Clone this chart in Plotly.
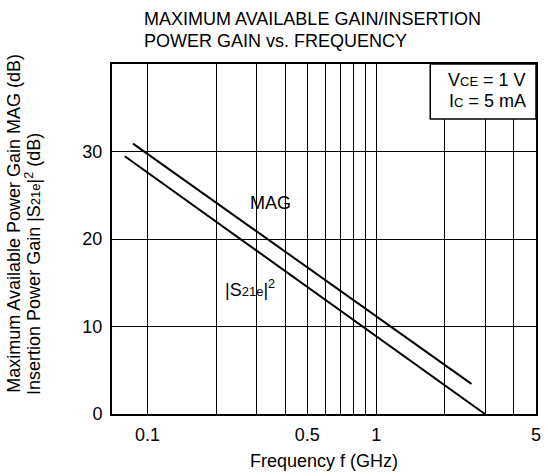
import plotly.graph_objects as go

# ---- data ----
mag_freq_ghz = [0.0865, 2.61]
mag_db = [30.9, 3.45]
s21_freq_ghz = [0.0796, 2.99]
s21_db = [29.45, 0.0]

x_grid_vals = [0.1, 0.2, 0.3, 0.4, 0.5, 0.6, 0.7, 0.8, 0.9, 1, 2, 3, 4, 5]
x_tick_text = ["0.1", "", "", "", "0.5", "", "", "", "", "1", "", "", "", "5"]
y_tick_vals = [0, 10, 20, 30, 40]
y_tick_text = ["0", "10", "20", "30", ""]

FONT = "Liberation Sans, Arial, sans-serif"
W, H = 548, 476
L, R, T, B = 112, 7, 64, 62
PW, PH = W - L - R, H - T - B


def px_x(px):
    return (px - L) / PW


def px_y(py):
    return (H - B - py) / PH


fig = go.Figure()
fig.add_trace(go.Scatter(x=mag_freq_ghz, y=mag_db, mode="lines",
                         line=dict(color="black", width=2), showlegend=False))
fig.add_trace(go.Scatter(x=s21_freq_ghz, y=s21_db, mode="lines",
                         line=dict(color="black", width=2), showlegend=False))

fig.update_xaxes(type="log", range=[-1.1549, 0.69897], tickvals=x_grid_vals,
                 ticktext=x_tick_text, showgrid=True, gridcolor="black", gridwidth=1,
                 showline=True, linecolor="black", linewidth=2, mirror=True,
                 ticks="outside", ticklen=3, tickcolor="rgba(0,0,0,0)",
                 tickfont=dict(family=FONT, size=18, color="black"),
                 title=dict(text="Frequency f (GHz)", standoff=11,
                            font=dict(family=FONT, size=18, color="black")),
                 zeroline=False)
fig.update_yaxes(range=[0, 40], tickvals=y_tick_vals, ticktext=y_tick_text,
                 showgrid=True, gridcolor="black", gridwidth=1,
                 showline=True, linecolor="black", linewidth=2, mirror=True,
                 ticks="outside", ticklen=4, tickcolor="rgba(0,0,0,0)",
                 tickfont=dict(family=FONT, size=18, color="black"),
                 zeroline=False)

# condition box
fig.add_shape(type="rect", xref="paper", yref="paper",
              x0=px_x(434), x1=1, y0=px_y(119), y1=1,
              fillcolor="white", line=dict(color="black", width=1.5), layer="above")

ann_font = dict(family=FONT, size=18, color="black")
sub = '<span style="font-size:13px">%s</span>'
annotations = [
    dict(text="MAXIMUM AVAILABLE GAIN/INSERTION", x=px_x(142), y=px_y(19),
         xanchor="left", yanchor="middle"),
    dict(text="POWER GAIN vs. FREQUENCY", x=px_x(142), y=px_y(41),
         xanchor="left", yanchor="middle"),
    dict(text="V" + sub % "CE" + " = 1 V", x=px_x(533), y=px_y(80),
         xanchor="right", yanchor="middle"),
    dict(text="I" + sub % "C" + " = 5 mA", x=px_x(533), y=px_y(101),
         xanchor="right", yanchor="middle"),
    dict(text="MAG", x=px_x(272), y=px_y(203), xanchor="center", yanchor="middle"),
    dict(text="|S" + sub % "21e" + "|<sup>2</sup>", x=px_x(252), y=px_y(288),
         xanchor="center", yanchor="middle"),
    dict(text="Maximum Available Power Gain MAG (dB)", x=px_x(12), y=px_y(395),
         xanchor="center", yanchor="bottom", textangle=-90),
    dict(text="Insertion Power Gain |S" + sub % "21e" + "|<sup>2</sup> (dB)",
         x=px_x(32), y=px_y(397), xanchor="center", yanchor="bottom", textangle=-90),
]
for a in annotations:
    a.update(xref="paper", yref="paper", showarrow=False, font=ann_font)
fig.update_layout(annotations=annotations)

fig.update_layout(width=W, height=H, margin=dict(l=L, r=R, t=T, b=B),
                  paper_bgcolor="white", plot_bgcolor="white",
                  font=dict(family=FONT, size=18, color="black"))

fig.write_html("out.html", config={"displayModeBar": False},
               post_script="document.body.style.margin='0';document.body.style.overflow='hidden';")
